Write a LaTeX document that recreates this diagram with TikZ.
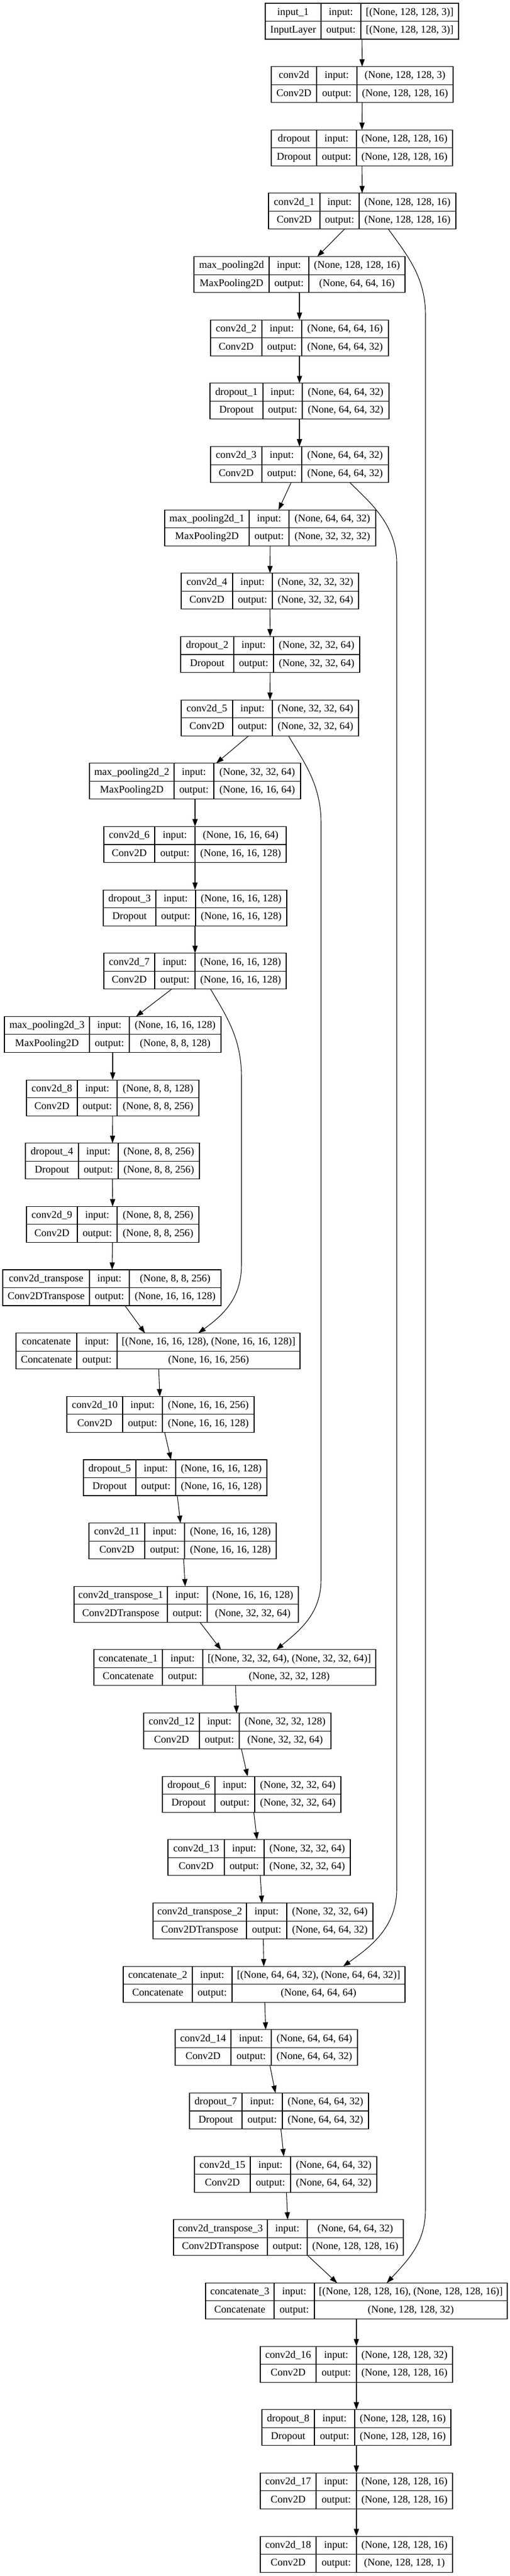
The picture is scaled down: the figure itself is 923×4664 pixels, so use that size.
\documentclass[tikz,border=0pt]{standalone}
\usepackage{fontspec}
\setmainfont{Liberation Serif}
\usetikzlibrary{arrows.meta,calc}

\begin{document}
\begin{tikzpicture}[x=0.75pt, y=-0.75pt,
    layer/.style={draw, rectangle, line width=0.8pt, inner sep=0pt, outer sep=0pt, minimum height=48.75pt},
    cell/.style={inner sep=0pt, text height=10.5pt, text depth=3pt, font=\fontsize{14pt}{16pt}\selectfont},
    edge/.style={-{Triangle[length=10pt,width=7pt]}, line width=0.8pt}]
    % Page
    \fill[white] (0,0) rectangle (923,4664);
    \useasboundingbox (0,0) rectangle (923,4664);
    % Draw the layers, each joined to the one before
    \foreach \id/\i/\xl/\da/\db/\xr/\nm/\cl/\si/\so [remember=\id as \lastid (initially input1)] in {
        input1/0/480/581/653/830/{input\_1}/{InputLayer}/{[(None, 128, 128, 3)]}/{[(None, 128, 128, 3)]},
        conv2d/1/491/573/646/820/{conv2d}/{Conv2D}/{(None, 128, 128, 3)}/{(None, 128, 128, 16)},
        dropout/2/491/573/645/819/{dropout}/{Dropout}/{(None, 128, 128, 16)}/{(None, 128, 128, 16)},
        conv2d1/3/486/579/650/825/{conv2d\_1}/{Conv2D}/{(None, 128, 128, 16)}/{(None, 128, 128, 16)},
        maxpool/4/351/487/559/733/{max\_pooling2d}/{MaxPooling2D}/{(None, 128, 128, 16)}/{(None, 64, 64, 16)},
        conv2d2/5/381/474/546/703/{conv2d\_2}/{Conv2D}/{(None, 64, 64, 16)}/{(None, 64, 64, 32)},
        dropout1/6/380/476/547/704/{dropout\_1}/{Dropout}/{(None, 64, 64, 32)}/{(None, 64, 64, 32)},
        conv2d3/7/381/474/546/703/{conv2d\_3}/{Conv2D}/{(None, 64, 64, 32)}/{(None, 64, 64, 32)},
        maxpool1/8/298/451/523/680/{max\_pooling2d\_1}/{MaxPooling2D}/{(None, 64, 64, 32)}/{(None, 32, 32, 32)},
        conv2d4/9/328/421/493/649/{conv2d\_4}/{Conv2D}/{(None, 32, 32, 32)}/{(None, 32, 32, 64)},
        dropout2/10/327/423/495/651/{dropout\_2}/{Dropout}/{(None, 32, 32, 64)}/{(None, 32, 32, 64)},
        conv2d5/11/328/421/493/649/{conv2d\_5}/{Conv2D}/{(None, 32, 32, 64)}/{(None, 32, 32, 64)},
        maxpool2/12/162/315/387/544/{max\_pooling2d\_2}/{MaxPooling2D}/{(None, 32, 32, 64)}/{(None, 16, 16, 64)},
        conv2d6/13/188/280/353/518/{conv2d\_6}/{Conv2D}/{(None, 16, 16, 64)}/{(None, 16, 16, 128)},
        dropout3/14/187/282/354/519/{dropout\_3}/{Dropout}/{(None, 16, 16, 128)}/{(None, 16, 16, 128)},
        conv2d7/15/188/280/353/518/{conv2d\_7}/{Conv2D}/{(None, 16, 16, 128)}/{(None, 16, 16, 128)},
        maxpool3/16/8/162/234/400/{max\_pooling2d\_3}/{MaxPooling2D}/{(None, 16, 16, 128)}/{(None, 8, 8, 128)},
        conv2d8/17/48/140/212/360/{conv2d\_8}/{Conv2D}/{(None, 8, 8, 128)}/{(None, 8, 8, 256)},
        dropout4/18/46/142/214/361/{dropout\_4}/{Dropout}/{(None, 8, 8, 256)}/{(None, 8, 8, 256)},
        conv2d9/19/48/140/212/360/{conv2d\_9}/{Conv2D}/{(None, 8, 8, 256)}/{(None, 8, 8, 256)},
        convT/20/5/162/234/400/{conv2d\_transpose}/{Conv2DTranspose}/{(None, 8, 8, 256)}/{(None, 16, 16, 128)},
        concat/21/29/139/212/543/{concatenate}/{Concatenate}/{[(None, 16, 16, 128), (None, 16, 16, 128)]}/{(None, 16, 16, 256)},
        conv2d10/22/121/222/294/460/{conv2d\_10}/{Conv2D}/{(None, 16, 16, 256)}/{(None, 16, 16, 128)},
        dropout5/23/151/246/318/483/{dropout\_5}/{Dropout}/{(None, 16, 16, 128)}/{(None, 16, 16, 128)},
        conv2d11/24/161/262/334/500/{conv2d\_11}/{Conv2D}/{(None, 16, 16, 128)}/{(None, 16, 16, 128)},
        convT1/25/134/303/375/540/{conv2d\_transpose\_1}/{Conv2DTranspose}/{(None, 16, 16, 128)}/{(None, 32, 32, 64)},
        concat1/26/170/294/367/680/{concatenate\_1}/{Concatenate}/{[(None, 32, 32, 64), (None, 32, 32, 64)]}/{(None, 32, 32, 128)},
        conv2d12/27/260/361/433/599/{conv2d\_12}/{Conv2D}/{(None, 32, 32, 128)}/{(None, 32, 32, 64)},
        dropout6/28/294/389/461/617/{dropout\_6}/{Dropout}/{(None, 32, 32, 64)}/{(None, 32, 32, 64)},
        conv2d13/29/304/406/478/634/{conv2d\_13}/{Conv2D}/{(None, 32, 32, 64)}/{(None, 32, 32, 64)},
        convT2/30/277/446/519/675/{conv2d\_transpose\_2}/{Conv2DTranspose}/{(None, 32, 32, 64)}/{(None, 64, 64, 32)},
        concat2/31/223/348/420/733/{concatenate\_2}/{Concatenate}/{[(None, 64, 64, 32), (None, 64, 64, 32)]}/{(None, 64, 64, 64)},
        conv2d14/32/317/418/491/647/{conv2d\_14}/{Conv2D}/{(None, 64, 64, 64)}/{(None, 64, 64, 32)},
        dropout7/33/343/438/511/667/{dropout\_7}/{Dropout}/{(None, 64, 64, 32)}/{(None, 64, 64, 32)},
        conv2d15/34/352/453/526/682/{conv2d\_15}/{Conv2D}/{(None, 64, 64, 32)}/{(None, 64, 64, 32)},
        convT3/35/314/484/556/730/{conv2d\_transpose\_3}/{Conv2DTranspose}/{(None, 64, 64, 32)}/{(None, 128, 128, 16)},
        concat3/36/372/496/569/918/{concatenate\_3}/{Concatenate}/{[(None, 128, 128, 16), (None, 128, 128, 16)]}/{(None, 128, 128, 32)},
        conv2d16/37/471/572/645/819/{conv2d\_16}/{Conv2D}/{(None, 128, 128, 32)}/{(None, 128, 128, 16)},
        dropout8/38/474/569/642/816/{dropout\_8}/{Dropout}/{(None, 128, 128, 16)}/{(None, 128, 128, 16)},
        conv2d17/39/471/572/645/819/{conv2d\_17}/{Conv2D}/{(None, 128, 128, 16)}/{(None, 128, 128, 16)},
        conv2d18/40/471/572/645/819/{conv2d\_18}/{Conv2D}/{(None, 128, 128, 16)}/{(None, 128, 128, 1)}} {
        \pgfmathsetmacro\ty{6+114.65*\i}
        \pgfmathsetmacro\bw{(\xr-\xl)*0.75}
        \node[layer, minimum width=\bw pt] (\id) at ({(\xl+\xr)/2},{\ty+32.5}) {};
        \draw[line width=0.8pt] (\da,\ty) -- (\da,{\ty+65}) (\db,\ty) -- (\db,{\ty+65})
            (\xl,{\ty+32.5}) -- (\xr,{\ty+32.5});
        \node[cell] (\id-name) at ({(\xl+\da)/2},{\ty+16.25}) {\nm};
        \node[cell] (\id-class) at ({(\xl+\da)/2},{\ty+48.75}) {\cl};
        \node[cell] (\id-inlabel) at ({(\da+\db)/2},{\ty+16.25}) {input:};
        \node[cell] (\id-outlabel) at ({(\da+\db)/2},{\ty+48.75}) {output:};
        \node[cell] (\id-in) at ({(\db+\xr)/2},{\ty+16.25}) {\si};
        \node[cell] (\id-out) at ({(\db+\xr)/2},{\ty+48.75}) {\so};
        \ifnum\i>0 \draw[edge] (\lastid) -- (\id); \fi
    }
    % Skip connections
    \draw[edge] ($(conv2d1.south)+(47.5,0)$) .. controls (735,460) and (770,500) .. (770,570)
        -- (770,4000) .. controls (770,4060) and (740,4090) .. ($(concat3.north)+(55,0)$);
    \draw[edge] ($(conv2d3.south)+(91,0)$) .. controls (670,910) and (718,950) .. (718,1020)
        -- (718,3420) .. controls (718,3490) and (670,3525) .. ($(concat2.north)+(143,0)$);
    \draw[edge] ($(conv2d5.south)+(33.5,0)$) .. controls (550,1380) and (581,1420) .. (581,1490)
        -- (581,2860) .. controls (581,2920) and (545,2950) .. ($(concat1.north)+(75,0)$);
    \draw[edge] ($(conv2d7.south)+(28,0)$) .. controls (410,1840) and (437,1880) .. (437,1950)
        -- (437,2290) .. controls (437,2350) and (405,2380) .. ($(concat.north)+(73,0)$);
\end{tikzpicture}
\end{document}
